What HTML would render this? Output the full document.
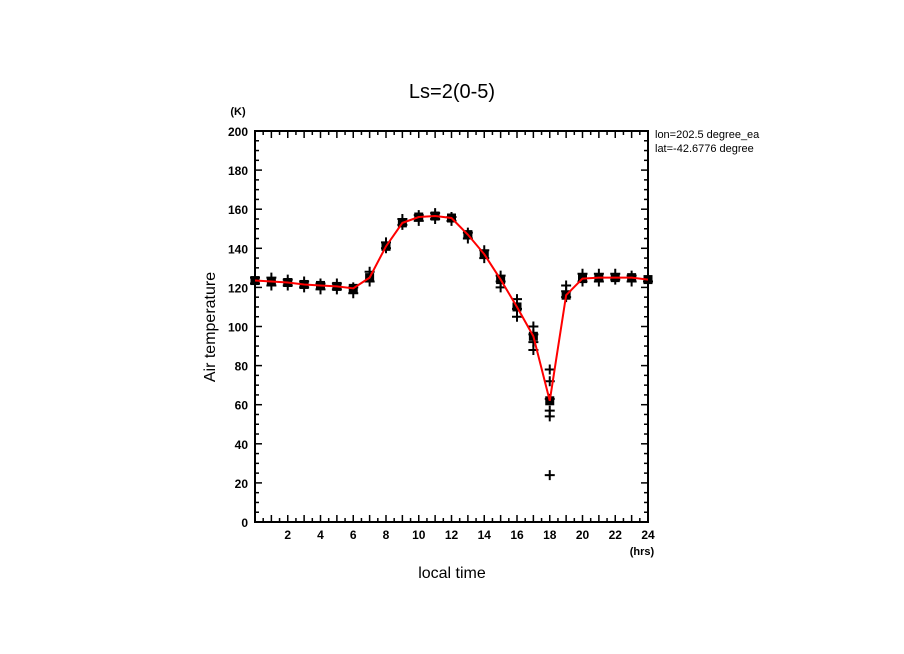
<!DOCTYPE html>
<html><head><meta charset="utf-8"><style>
body{margin:0;background:#fff;}
svg{display:block;font-family:"Liberation Sans",sans-serif;}
</style></head><body>
<svg id="c" width="904" height="654"></svg>
<script>
const hours=[0,1,2,3,4,5,6,7,8,9,10,11,12,13,14,15,16,17,18,19,20,21,22,23,24];
const meanTemp=[123.5,123,122.5,121.5,121,120.5,119.5,125,141,153,156,156.5,155.5,147,137,124,110,95,62,116,124.5,125,125,125,124];
const sampleHours=[0,0,1,1,2,2,3,3,4,4,5,5,6,6,7,7,8,8,9,9,10,10,11,11,12,12,13,13,14,14,15,15,15,16,16,16,17,17,17,17,18,18,18,18,18,18,19,19,19,20,20,21,21,22,22,23,23,24];
const sampleTemp=[122,125,121,125,121,124,120,123,119,122,119,122,117,120,123,128,140,143,152,155,154,157,155,158,154,156,145,148,135,139,120,123,126,105,109,114,88,92,96,100,24,54,57,63,72,78,115,118,121,123,127,123,127,124,127,123,126,123];
const yTicks=[0,20,40,60,80,100,120,140,160,180,200];
const xTicks=[2,4,6,8,10,12,14,16,18,20,22,24];
const NS="http://www.w3.org/2000/svg";
const svg=document.getElementById('c');
const L=255,R=648,T=131,B=522;
const xs=h=>L+(R-L)*h/24, ys=v=>B-(B-T)*v/200;
function mk(tag,a,parent){const e=document.createElementNS(NS,tag);for(const k in a)e.setAttribute(k,a[k]);(parent||svg).appendChild(e);return e;}
function txt(s,x,y,size,anchor,extra){const e=mk('text',Object.assign({x:x,y:y,'font-size':size,'text-anchor':anchor||'middle',fill:'#000'},extra||{}));e.textContent=s;return e;}
const frame=mk('rect',{x:L,y:T,width:R-L,height:B-T,fill:'none',stroke:'#000','stroke-width':2});


const t=txt('Ls=2(0-5)',452,98,20);


const yu=txt('(K)',238,115,11,'middle',{'font-weight':'bold'});


const xu=txt('(hrs)',642,555,11,'middle',{'font-weight':'bold'});


const xt=txt('local time',452,578,16);


const yt=txt('Air temperature',215,327,16,'middle',{transform:'rotate(-90 215 327)'});


const i1=txt('lon=202.5 degree_ea',655,138,11,'start');


const i2=txt('lat=-42.6776 degree',655,152,11,'start');


mk('rect',{x:781,y:125,width:123,height:35,fill:'#fff'});
for(let v=0;v<=200;v+=5){const major=v%20===0;const len=major?7:4;
 mk('line',{x1:L,y1:ys(v),x2:L+len,y2:ys(v),stroke:'#000','stroke-width':1.5});
 mk('line',{x1:R,y1:ys(v),x2:R-len,y2:ys(v),stroke:'#000','stroke-width':1.5});}
yTicks.forEach(v=>{const e=txt(String(v),248,ys(v)+5,12,'end',{'font-weight':'bold'});
 
 });
for(let h=0;h<=24;h+=0.5){const major=h%1===0;const len=major?7:4;
 mk('line',{x1:xs(h),y1:B,x2:xs(h),y2:B-len,stroke:'#000','stroke-width':1.5});
 mk('line',{x1:xs(h),y1:T,x2:xs(h),y2:T+len,stroke:'#000','stroke-width':1.5});}
xTicks.forEach(h=>{const e=txt(String(h),xs(h),539,12,'middle',{'font-weight':'bold'});
 
 });
sampleHours.forEach((h,i)=>{const x=xs(h),y=ys(sampleTemp[i]);
 const p=mk('path',{d:`M${x-5},${y}H${x+5}M${x},${y-5}V${y+5}`,stroke:'#000','stroke-width':2});
 
 });
hours.forEach((h,i)=>{const r=mk('rect',{x:xs(h)-4.5,y:ys(meanTemp[i])-4.5,width:9,height:9,fill:'#000'});
 
 });
const line=mk('polyline',{points:hours.map((h,i)=>xs(h)+','+ys(meanTemp[i])).join(' '),fill:'none',stroke:'#f00','stroke-width':2});


</script>
</body></html>
